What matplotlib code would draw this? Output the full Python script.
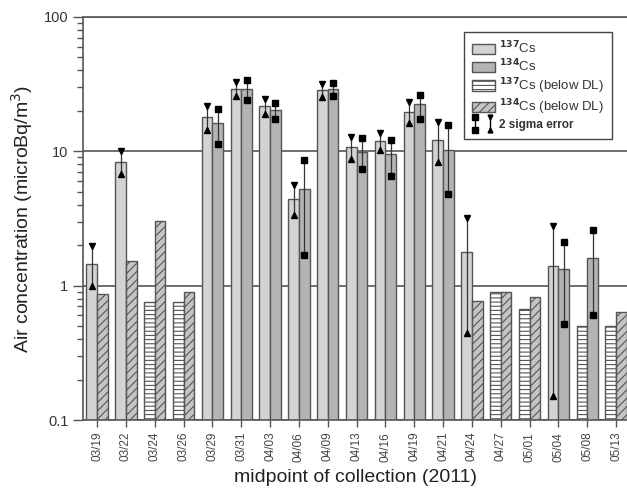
import numpy as np
import matplotlib
matplotlib.use('Agg')
import matplotlib.pyplot as plt
from matplotlib.patches import Patch
from matplotlib.lines import Line2D
from matplotlib.legend_handler import HandlerBase

plt.rcParams['font.family'] = ['Liberation Sans', 'DejaVu Sans']
plt.rcParams['hatch.linewidth'] = 0.8

nan = np.nan

dates = ['03/19', '03/22', '03/24', '03/26', '03/29', '03/31', '04/03', '04/06',
         '04/09', '04/13', '04/16', '04/19', '04/21', '04/24', '04/27', '05/01',
         '05/04', '05/08', '05/13']

# 137Cs: value, below detection limit flag, 2 sigma range
cs137 = [1.45, 8.3, 0.75, 0.75, 18.0, 29.2, 21.9, 4.42, 28.5, 10.8, 12.0, 19.7,
         12.2, 1.77, 0.89, 0.67, 1.41, 0.50, 0.50]
cs137_dl = [False, False, True, True, False, False, False, False, False, False,
            False, False, False, False, True, True, False, True, True]
cs137_hi = [1.96, 10.1, nan, nan, 21.9, 32.6, 24.5, 5.6, 31.9, 12.8, 13.7, 23.4,
            16.5, 3.17, nan, nan, 2.80, nan, nan]
cs137_lo = [0.99, 6.8, nan, nan, 14.5, 26.0, 19.1, 3.38, 25.4, 8.78, 10.3, 16.3,
            8.28, 0.444, nan, nan, 0.152, nan, nan]

# 134Cs
cs134 = [0.87, 1.53, 3.01, 0.90, 16.2, 29.2, 20.4, 5.21, 29.2, 9.9, 9.57, 22.4,
         10.3, 0.773, 0.89, 0.83, 1.32, 1.61, 0.64]
cs134_dl = [True, True, True, True, False, False, False, False, False, False,
            False, False, False, True, True, True, False, False, True]
cs134_hi = [nan, nan, nan, nan, 20.7, 33.8, 22.8, 8.57, 32.3, 12.5, 12.2, 26.4,
            15.7, nan, nan, nan, 2.12, 2.60, nan]
cs134_lo = [nan, nan, nan, nan, 11.4, 24.0, 17.4, 1.68, 26.0, 7.43, 6.59, 17.5,
            4.82, nan, nan, nan, 0.52, 0.61, nan]

# styles
edge = '#555555'
st137 = dict(facecolor='#d3d3d3', edgecolor=edge, hatch=None)
st134 = dict(facecolor='#b4b4b4', edgecolor=edge, hatch=None)
st137dl = dict(facecolor='white', edgecolor=edge, hatch='----')
st134dl = dict(facecolor='#c4c4c4', edgecolor=edge, hatch='////')
width = 0.37

fig = plt.figure(figsize=(6.27, 4.98), dpi=100)
ax = fig.add_axes([0.1324, 0.1566, 0.8676, 0.8093])
ax.set_yscale('log')

x = np.arange(len(dates))
for i in range(len(dates)):
    s = st137dl if cs137_dl[i] else st137
    ax.bar(x[i] - width / 2, cs137[i], width, linewidth=1.0, zorder=2, **s)
    s = st134dl if cs134_dl[i] else st134
    ax.bar(x[i] + width / 2, cs134[i], width, linewidth=1.0, zorder=2, **s)

# 2 sigma error bars
hi = np.array(cs137_hi); lo = np.array(cs137_lo)
ax.vlines(x - width / 2, lo, hi, color='#333333', lw=0.9, zorder=3)
ax.plot(x - width / 2, hi, 'v', color='black', ms=4, zorder=4)
ax.plot(x - width / 2, lo, '^', color='black', ms=4, zorder=4)
hi = np.array(cs134_hi); lo = np.array(cs134_lo)
ax.vlines(x + width / 2, lo, hi, color='#333333', lw=0.9, zorder=3)
ax.plot(x + width / 2, hi, 's', color='black', ms=4.8, zorder=4)
ax.plot(x + width / 2, lo, 's', color='black', ms=4.8, zorder=4)

ax.set_ylim(0.1, 100)
ax.set_xlim(-0.49, len(dates) - 1 + 0.38)
ax.yaxis.grid(True, which='major', color='#555555', lw=1.2, zorder=0)
ax.set_axisbelow(True)

ax.set_xticks(x)
ax.set_xticklabels(dates, rotation=90, fontsize=8.5, color='#444444')
ax.set_yticks([0.1, 1, 10, 100])
ax.set_yticklabels(['0.1', '1', '10', '100'], fontsize=10.5, color='#333333')
ax.tick_params(axis='y', which='major', length=7, width=1, color='#555555')
ax.tick_params(axis='y', which='minor', length=4.3, width=1, color='#555555')
ax.tick_params(axis='x', length=5, width=1, color='#555555')
for sp in ['left', 'bottom', 'top']:
    ax.spines[sp].set_color('#555555')
    ax.spines[sp].set_linewidth(1.2)
ax.spines['right'].set_visible(False)

ax.set_ylabel('Air concentration (microBq/m$^3$)', fontsize=14, color='#222222', labelpad=6)
ax.set_xlabel('midpoint of collection (2011)', fontsize=14, color='#222222', labelpad=5)


class ErrHandler(HandlerBase):
    def create_artists(self, legend, orig_handle, xdescent, ydescent, width, height,
                       fontsize, trans):
        y0 = -ydescent - height * 0.15
        y1 = -ydescent + height * 1.15
        xa = -xdescent + width * 0.13
        xb = -xdescent + width * 0.8
        arts = [
            Line2D([xa, xa], [y0, y1], color='black', lw=1, transform=trans),
            Line2D([xa, xa], [y0, y1], ls='none', marker='s', ms=4.5, color='black', transform=trans),
            Line2D([xb, xb], [y0, y1], color='black', lw=1, transform=trans),
            Line2D([xb], [y1], ls='none', marker='v', ms=3.5, color='black', transform=trans),
            Line2D([xb], [y0], ls='none', marker='^', ms=3.5, color='black', transform=trans),
        ]
        return arts


handles = [Patch(linewidth=1.0, **st137), Patch(linewidth=1.0, **st134),
           Patch(linewidth=1.0, **st137dl), Patch(linewidth=1.0, **st134dl), 'err']
labels = [r'$^{\mathbf{137}}$Cs', r'$^{\mathbf{134}}$Cs',
          r'$^{\mathbf{137}}$Cs (below DL)', r'$^{\mathbf{134}}$Cs (below DL)',
          '2 sigma error']
leg = ax.legend(handles, labels, loc='upper right', bbox_to_anchor=(0.972, 0.963),
                borderaxespad=0, fontsize=9.5, handlelength=1.75, handleheight=0.8,
                handletextpad=0.3, labelspacing=0.12, borderpad=0.6,
                fancybox=False, edgecolor='#444444', framealpha=1,
                handler_map={str: ErrHandler()})
leg.get_frame().set_linewidth(1.0)
for t in leg.get_texts():
    t.set_color('#333333')
leg.get_texts()[-1].set_fontweight('bold')
leg.get_texts()[-1].set_fontsize(8.5)

fig.savefig('out.png', dpi=100)
